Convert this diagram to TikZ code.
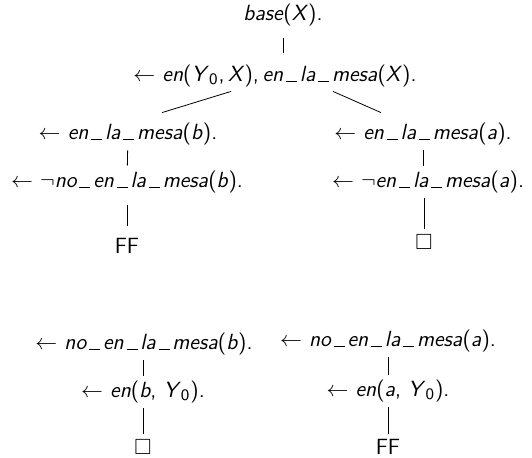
\documentclass[tikz,border=0pt]{standalone}
\usepackage{amssymb}
\usetikzlibrary{positioning}

\newcommand{\at}[1]{\textit{#1}}
\newcommand{\ub}{\kern.13em\rule[-0.3pt]{0.5em}{0.4pt}\kern.13em}
\newcommand{\flecha}{$\leftarrow$\ }
\newcommand{\cero}{$_\mathsf{0}$}

\tikzset{
  term/.style={inner sep=1pt, font=\fontsize{11}{13}\selectfont\sffamily},
  rama/.style={shorten <=1.5pt, shorten >=1.5pt},
  larga/.style={shorten <=5pt, shorten >=5pt},
}

\begin{document}
\begin{tikzpicture}[x=0.5pt, y=-0.5pt]
    \useasboundingbox (0,0) rectangle (532,457);

    % arbol principal
    \node[term] (raiz) at (283, 15) {\at{base}(\at{X}).};
    \node[term] (r1) at (275, 76) {\flecha\at{en}(\at{Y}\cero,\kern.17em\at{X}),\kern.17em\at{en\ub la\ub mesa}(\at{X}).};

    % rama izquierda
    \node[term] (i1) at (128, 134) {\flecha\at{en\ub la\ub mesa}(\at{b}).};
    \node[term] (i2) at (127, 182) {\flecha$\neg$\at{no\ub en\ub la\ub mesa}(\at{b}).};
    \node[term] (i3) at (127, 246) {FF};

    % rama derecha
    \node[term] (d1) at (423, 134) {\flecha\at{en\ub la\ub mesa}(\at{a}).};
    \node[term] (d2) at (428, 182) {\flecha$\neg$\at{en\ub la\ub mesa}(\at{a}).};
    \node[term] (d3) at (424, 242) {$\square$};

    \draw[larga] (raiz) -- (raiz |- r1.north);
    \draw ([xshift=-22pt,yshift=-1pt]r1.south) -- ([xshift=17pt,yshift=4pt]i1.north);
    \draw ([xshift=29pt,yshift=-1pt]r1.south) -- ([xshift=-21pt,yshift=4pt]d1.north);
    \draw[rama] (i1) -- (i2);
    \draw[larga] (i2) -- (i3);
    \draw[rama] (d1) -- (d2.north -| d1);
    \draw[rama] (d2.south -| d3) -- (d3);

    % arboles de abajo
    \node[term] (b1) at (144, 344) {\flecha\at{no\ub en\ub la\ub mesa}(\at{b}).};
    \node[term] (b2) at (143, 392) {\flecha\at{en}(\at{b}, \at{Y}\cero).};
    \node[term] (b3) at (143, 447) {$\square$};

    \node[term] (a1) at (388, 341) {\flecha\at{no\ub en\ub la\ub mesa}(\at{a}).};
    \node[term] (a2) at (388, 391) {\flecha\at{en}(\at{a}, \at{Y}\cero).};
    \node[term] (a3) at (388, 447) {FF};

    \draw[rama] (b1.south -| b2) -- (b2);
    \draw[rama] (b2) -- (b3);
    \draw[rama] (a1) -- (a2);
    \draw[rama] (a2) -- (a3);
\end{tikzpicture}
\end{document}
